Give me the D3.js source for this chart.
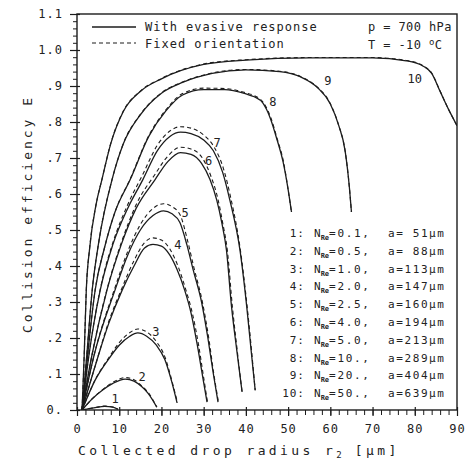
<!DOCTYPE html>
<html><head><meta charset="utf-8">
<script src="https://cdn.jsdelivr.net/npm/d3@7"></script>
<style>
body{margin:0;background:#fff;}
text{font-family:"DejaVu Sans Mono",monospace;fill:#222;white-space:pre;}
</style></head>
<body><svg id="c" width="467" height="460"></svg>
<script>
// ---- data ----
const curveIds = ["1","2","3","4","5","6","7","8","9","10"];
// With evasive response (solid): [r2 (µm), E]
const evasive1 = [[1.2,0],[4,0.006],[6.6,0.01],[8.5,0.008],[9.7,0.002]];
const evasive2 = [[1.2,0],[3.5,0.03],[6,0.055],[8.5,0.074],[11.4,0.086],[13.5,0.08],[15.3,0.065],[16.8,0.047],[18.9,0.008]];
const evasive3 = [[1.2,0],[4.3,0.083],[7.4,0.14],[10,0.18],[12.5,0.205],[14.4,0.214],[16.5,0.205],[18.8,0.18],[20.8,0.14],[22.4,0.08],[23.7,0.02]];
const evasive4 = [[1.2,0],[4.5,0.13],[7.5,0.24],[10.7,0.333],[13.5,0.4],[16,0.45],[18,0.46],[20,0.455],[22,0.43],[23.7,0.39],[25.5,0.333],[27,0.27],[28.5,0.18],[29.8,0.09],[30.8,0.022]];
const evasive5 = [[1.2,0],[4,0.15],[9,0.333],[12,0.43],[15,0.5],[18,0.54],[20.5,0.553],[22.5,0.545],[24.4,0.52],[26,0.46],[27.5,0.39],[29.5,0.3],[31,0.2],[32.3,0.1],[33.4,0.022]];
const evasive6 = [[1.2,0],[3.5,0.15],[7.1,0.333],[10.5,0.46],[14,0.56],[18.5,0.64],[21.5,0.69],[24.5,0.715],[27,0.71],[29.5,0.685],[31.5,0.64],[33.1,0.583],[34.3,0.52],[35.4,0.444],[36.6,0.287],[37.8,0.17],[39.1,0.05]];
const evasive7 = [[1.2,0],[2.8,0.15],[5.5,0.333],[8.5,0.46],[12,0.56],[15.6,0.64],[19,0.72],[22,0.76],[24.5,0.772],[27,0.768],[30,0.75],[32.3,0.72],[34.5,0.66],[36.2,0.583],[38.6,0.444],[40.2,0.287],[41.2,0.17],[42.2,0.055]];
const evasive8 = [[1.3,0],[2.5,0.15],[4.3,0.333],[6.5,0.45],[9,0.55],[12.6,0.64],[17,0.76],[21,0.83],[25,0.875],[30,0.89],[35,0.89],[40,0.878],[42,0.87],[44,0.853],[45.8,0.81],[47.4,0.75],[48.8,0.69],[49.9,0.62],[50.8,0.55]];
const evasive9 = [[1.2,0],[2.3,0.15],[3.6,0.333],[5.2,0.47],[8.3,0.64],[11,0.74],[15,0.82],[20,0.88],[25,0.91],[32,0.935],[40,0.945],[48,0.94],[53,0.925],[57,0.895],[60,0.85],[62,0.79],[63.5,0.72],[64.5,0.62],[65,0.55]];
const evasive10 = [[1.2,0],[1.7,0.15],[2.2,0.333],[3,0.45],[4.5,0.57],[5.9,0.64],[8,0.74],[11,0.83],[15,0.885],[20,0.92],[30,0.96],[40,0.972],[55,0.978],[70,0.978],[78,0.97],[82,0.955],[84,0.935],[86,0.885],[88,0.835],[90,0.79]];
// Fixed orientation (dashed)
const fixed1 = [[1.2,0],[4,0.006],[6.6,0.011],[8.5,0.008],[9.7,0.002]];
const fixed2 = [[1.2,0],[3.5,0.03],[6,0.056],[8.5,0.077],[11.4,0.09],[13.5,0.084],[15.3,0.067],[16.9,0.048],[18.9,0.008]];
const fixed3 = [[1.2,0],[4.3,0.084],[7.4,0.143],[10,0.187],[12.5,0.215],[14.4,0.225],[16.5,0.217],[18.8,0.19],[20.9,0.145],[22.5,0.08],[23.8,0.02]];
const fixed4 = [[1.2,0],[4.5,0.13],[7.5,0.245],[10.7,0.34],[13.5,0.415],[16,0.465],[18,0.478],[20,0.472],[22,0.447],[23.9,0.4],[25.8,0.333],[27.3,0.27],[28.8,0.18],[30,0.09],[30.9,0.022]];
const fixed5 = [[1.2,0],[4,0.15],[9,0.34],[12,0.44],[15,0.515],[18,0.56],[20.5,0.573],[22.5,0.565],[24.5,0.54],[26.2,0.47],[27.7,0.395],[29.7,0.3],[31.2,0.2],[32.4,0.1],[33.5,0.022]];
const fixed6 = [[1.2,0],[3.5,0.15],[7.1,0.335],[10.5,0.465],[14,0.57],[18.5,0.655],[21.5,0.705],[24.5,0.73],[27,0.725],[29.7,0.7],[31.7,0.65],[33.3,0.59],[34.5,0.52],[35.6,0.444],[36.8,0.287],[37.9,0.17],[39.1,0.05]];
const fixed7 = [[1.2,0],[2.8,0.15],[5.5,0.335],[8.5,0.465],[12,0.57],[15.6,0.655],[19,0.735],[22,0.775],[24.5,0.787],[27,0.783],[30.2,0.762],[32.5,0.73],[34.7,0.67],[36.4,0.59],[38.7,0.444],[40.3,0.287],[41.3,0.17],[42.2,0.055]];
const fixed8 = [[1.3,0],[2.5,0.15],[4.3,0.333],[6.5,0.45],[9,0.55],[12.6,0.642],[17,0.762],[21,0.833],[25,0.879],[30,0.894],[35,0.893],[40,0.881],[42,0.873],[44,0.856],[45.9,0.812],[47.5,0.75],[48.9,0.69],[49.9,0.62],[50.8,0.55]];
const fixed9 = [[1.2,0],[2.3,0.15],[3.6,0.333],[5.2,0.47],[8.3,0.64],[11,0.741],[15,0.821],[20,0.881],[25,0.911],[32,0.936],[40,0.946],[48,0.941],[53,0.926],[57,0.896],[60,0.851],[62,0.79],[63.5,0.72],[64.5,0.62],[65,0.55]];
const fixed10 = [[1.2,0],[1.7,0.15],[2.2,0.333],[3,0.45],[4.5,0.57],[5.9,0.64],[8,0.741],[11,0.831],[15,0.886],[20,0.921],[30,0.961],[40,0.973],[55,0.979],[70,0.979],[78,0.971],[82,0.956],[84,0.936],[86,0.886],[88,0.835],[90,0.79]];
const evasiveSeries = [evasive1,evasive2,evasive3,evasive4,evasive5,evasive6,evasive7,evasive8,evasive9,evasive10];
const fixedSeries = [fixed1,fixed2,fixed3,fixed4,fixed5,fixed6,fixed7,fixed8,fixed9,fixed10];
// curve label anchor points (data coords)
const labelR = [9.0,15.4,18.7,23.9,25.6,31.2,33.2,46.4,59.4,80.0];
const labelE = [0.033,0.094,0.22,0.46,0.55,0.694,0.744,0.857,0.917,0.922];
// legend rows
const rowNre = ["=0.1,","=0.5,","=1.0,","=2.0,","=2.5,","=4.0,","=5.0,","=10.,","=20.,","=50.,"];
const rowA = ["a= 51µm","a= 88µm","a=113µm","a=147µm","a=160µm","a=194µm","a=213µm","a=289µm","a=404µm","a=639µm"];
// axis ticks
const xTicks = [0,10,20,30,40,50,60,70,80,90];
const xTickLabels = ["0","10","20","30","40","50","60","70","80","90"];
const yTicks = [1.1,1.0,0.9,0.8,0.7,0.6,0.5,0.4,0.3,0.2,0.1,0];
const yTickLabels = ["1.1","1.0",".9",".8",".7",".6",".5",".4",".3",".2",".1","0."];

// ---- drawing ----
const svg = d3.select("#c");
const ink = "#1c1c1c";
const x = d3.scaleLinear([0,90],[77,457]);
const y = d3.scaleLinear([0,1.1],[410,14]);

svg.append("defs").append("clipPath").attr("id","pc").append("rect")
  .attr("x",77).attr("y",14).attr("width",380).attr("height",396);

// minor ticks
const yMinor = d3.range(0,1.1001,0.02);
svg.append("g").attr("transform","translate(77,0)")
  .call(d3.axisLeft(y).tickValues(yMinor).tickSize(4).tickFormat(""))
  .call(g=>g.select(".domain").remove())
  .selectAll("line").attr("stroke",ink);
const xMinor = d3.range(0,90.001,2);
svg.append("g").attr("transform","translate(0,410)")
  .call(d3.axisBottom(x).tickValues(xMinor).tickSize(5).tickFormat(""))
  .call(g=>g.select(".domain").remove())
  .selectAll("line").attr("stroke",ink);

// major axes
const gy = svg.append("g").attr("transform","translate(77,0)")
  .call(d3.axisLeft(y).tickValues(yTicks).tickSize(7).tickPadding(7).tickFormat((d,i)=>yTickLabels[i]));
gy.selectAll("line").attr("x1",3).attr("stroke",ink).attr("stroke-width",1.2);
gy.select(".domain").remove();
gy.selectAll("text").attr("font-size",12).attr("font-family","DejaVu Sans Mono").attr("letter-spacing",1).attr("fill","#222");

const gx = svg.append("g").attr("transform","translate(0,410)")
  .call(d3.axisBottom(x).tickValues(xTicks).tickSize(6).tickPadding(8).tickFormat((d,i)=>xTickLabels[i]));
gx.selectAll("line").attr("y1",-3).attr("stroke",ink).attr("stroke-width",1.2);
gx.select(".domain").remove();
gx.selectAll("text").attr("font-size",12).attr("font-family","DejaVu Sans Mono").attr("letter-spacing",1).attr("fill","#222");

// frame
svg.append("rect").attr("x",77).attr("y",14).attr("width",380).attr("height",396)
  .attr("fill","none").attr("stroke",ink).attr("stroke-width",1.4);

// curves
const line = d3.line().x(d=>x(d[0])).y(d=>y(d[1])).curve(d3.curveMonotoneX);
const cg = svg.append("g").attr("clip-path","url(#pc)");
cg.selectAll("path.fix").data(fixedSeries).join("path").attr("class","fix")
  .attr("d",line).attr("fill","none").attr("stroke",ink).attr("stroke-width",1.1)
  .attr("stroke-dasharray","4,3");
cg.selectAll("path.eva").data(evasiveSeries).join("path").attr("class","eva")
  .attr("d",line).attr("fill","none").attr("stroke",ink).attr("stroke-width",1.3);

// curve labels
svg.append("g").selectAll("text").data(curveIds).join("text")
  .attr("x",(d,i)=>x(labelR[i])).attr("y",(d,i)=>y(labelE[i])+5)
  .attr("text-anchor","middle").attr("font-size",12).text(d=>d);

// top legend
svg.append("line").attr("x1",92).attr("x2",136).attr("y1",27).attr("y2",27).attr("stroke",ink).attr("stroke-width",1.4);
svg.append("line").attr("x1",92).attr("x2",136).attr("y1",43).attr("y2",43).attr("stroke",ink).attr("stroke-width",1.1).attr("stroke-dasharray","4,3");
svg.append("text").attr("x",145).attr("y",31).attr("font-size",12).attr("letter-spacing",1).text("With evasive response");
svg.append("text").attr("x",145).attr("y",48).attr("font-size",12).attr("letter-spacing",1).text("Fixed orientation");
svg.append("text").attr("x",368).attr("y",31).attr("font-size",12).attr("letter-spacing",0.4).text("p = 700 hPa");
const tT = svg.append("text").attr("x",368).attr("y",49).attr("font-size",12).attr("letter-spacing",0.4);
tT.append("tspan").text("T = -10 ");
tT.append("tspan").attr("dy",-4).attr("font-size",9).text("o");
tT.append("tspan").attr("dy",4).text("C");

// right legend rows
const rows = svg.append("g").selectAll("g").data(curveIds).join("g")
  .attr("transform",(d,i)=>`translate(0,${237+i*17.8})`);
rows.append("text").attr("x",305).attr("text-anchor","end").attr("font-size",11).attr("letter-spacing",1).text(d=>d+":");
const nt = rows.append("text").attr("x",314).attr("font-size",11);
nt.append("tspan").text("N");
nt.append("tspan").attr("dy",3).attr("font-size",7).attr("font-weight","bold").text("Re");
nt.append("tspan").attr("dy",-3).attr("letter-spacing",1.7).text((d,i)=>rowNre[i]);
rows.append("text").attr("x",388).attr("font-size",11).attr("letter-spacing",1.6).text((d,i)=>rowA[i]);

// axis titles
const xt = svg.append("text").attr("x",78).attr("y",455).attr("font-size",13).attr("letter-spacing",3.4);
xt.append("tspan").text("Collected drop radius r");
xt.append("tspan").attr("dy",3).attr("font-size",9).attr("letter-spacing",2).text("2");
xt.append("tspan").attr("dy",-3).text(" [µm]");
svg.append("text").attr("transform","translate(32,214) rotate(-90)").attr("text-anchor","middle")
  .attr("font-size",13).attr("letter-spacing",3).text("Collision efficiency E");
</script></body></html>
